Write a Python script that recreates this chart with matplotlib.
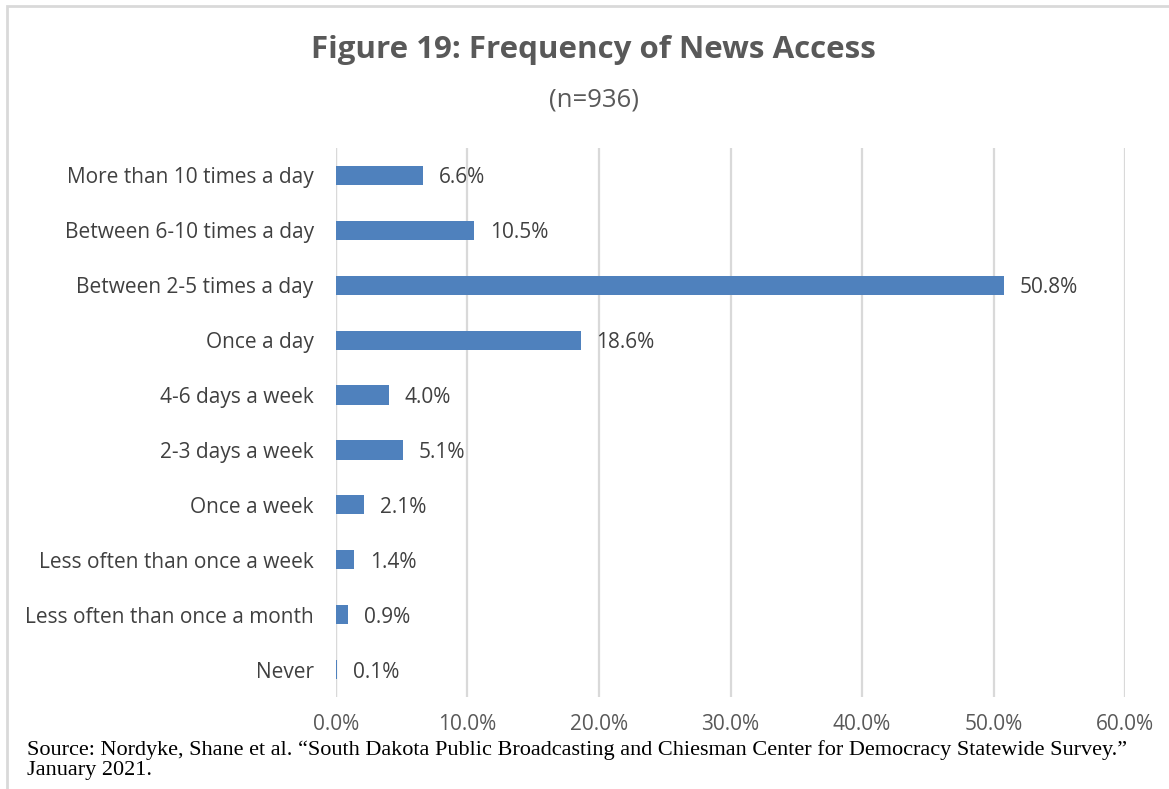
import matplotlib
matplotlib.use("Agg")
import matplotlib.pyplot as plt
from matplotlib.patches import Rectangle

categories = [
    "More than 10 times a day",
    "Between 6-10 times a day",
    "Between 2-5 times a day",
    "Once a day",
    "4-6 days a week",
    "2-3 days a week",
    "Once a week",
    "Less often than once a week",
    "Less often than once a month",
    "Never",
]
shares = [6.6, 10.5, 50.8, 18.6, 4.0, 5.1, 2.1, 1.4, 0.9, 0.1]
xticks = [0, 10, 20, 30, 40, 50, 60]

sans = ["Open Sans", "DejaVu Sans"]
serif = ["Liberation Serif", "DejaVu Serif"]

fig = plt.figure(figsize=(11.69, 7.89), dpi=100)
ax = fig.add_axes([0.2874, 0.1166, 0.675, 0.6958])

pos = list(range(len(categories)))
ax.barh(pos, shares, height=0.35, color="#4F81BD", zorder=3)
for y, v in zip(pos, shares):
    ax.annotate(f"{v:.1f}%", (v, y), xytext=(11.5, 0), textcoords="offset points",
                va="center_baseline", ha="left", fontsize=15, color="#404040", family=sans)

ax.set_xlim(0, 60)
ax.set_ylim(len(categories) - 0.5, -0.5)
ax.set_xticks(xticks)
ax.set_xticklabels([f"{t:.1f}%" for t in xticks], fontsize=15, color="#595959", family=sans)
ax.set_yticks(pos)
ax.set_yticklabels(categories, fontsize=15, color="#404040", family=sans, va="center_baseline")
ax.tick_params(axis="x", length=0, pad=12)
ax.tick_params(axis="y", length=0, pad=16)
ax.grid(axis="x", color="#D9D9D9", linewidth=1.6, zorder=0)
for s in ax.spines.values():
    s.set_visible(False)
ax.axvline(0, color="#D9D9D9", linewidth=1.6, zorder=1)

fig.text(0.508, 0.936, "Figure 19: Frequency of News Access", ha="center", va="center",
         fontsize=22.5, fontweight="bold", color="#595959", family=sans)
fig.text(0.508, 0.873, "(n=936)", ha="center", va="center",
         fontsize=18.5, color="#595959", family=sans)

# chart frame, top and left edges
fig.add_artist(Rectangle((0.006, -0.1), 1.2, 1.093, transform=fig.transFigure,
                         fill=False, edgecolor="#D9D9D9", linewidth=2))

fig.text(0.023, 0.037, "Source: Nordyke, Shane et al. \u201cSouth Dakota Public Broadcasting and "
         "Chiesman Center for Democracy Statewide Survey.\u201d\nJanuary 2021.",
         ha="left", va="center", fontsize=16, color="black", family=serif, linespacing=1.05)

fig.savefig("out.png", dpi=100, facecolor="white")
